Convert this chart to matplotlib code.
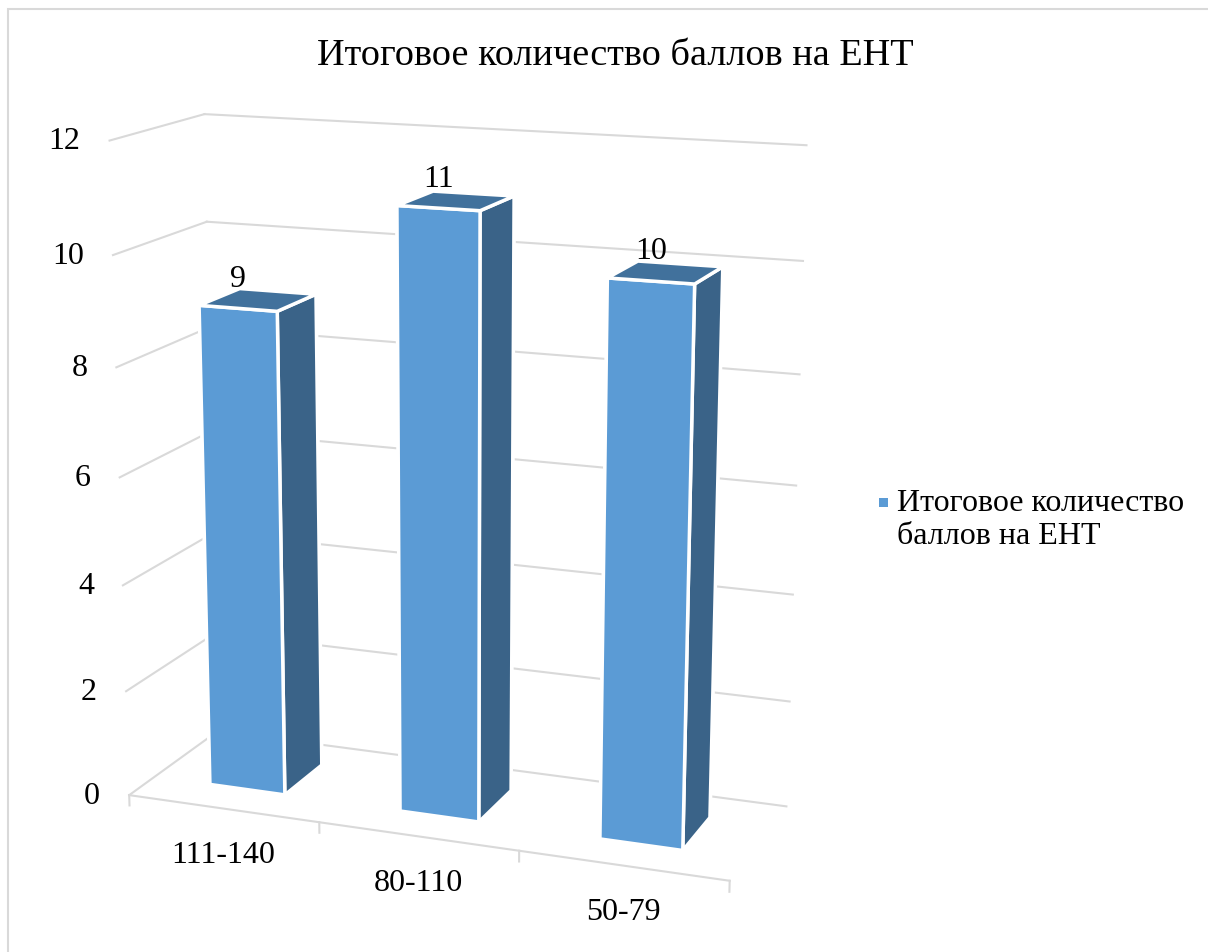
import numpy as np
import matplotlib
matplotlib.use('Agg')
import matplotlib.pyplot as plt
from matplotlib.patches import Rectangle
from mpl_toolkits.mplot3d import proj3d

# данные
categories = ['111-140', '80-110', '50-79']
values = [9, 11, 10]
series_name = 'Итоговое количество\nбаллов на ЕНТ'
title = 'Итоговое количество баллов на ЕНТ'
z_ticks = [0, 2, 4, 6, 8, 10, 12]

FONT = ['Liberation Serif', 'DejaVu Serif']
plt.rcParams['font.family'] = FONT

front_col = '#5B9BD5'
top_col = '#41719C'
side_col = '#3A6388'
grid_col = '#D9D9D9'

W, H = 1208, 953
fig = plt.figure(figsize=(W / 100, H / 100), dpi=100)

# рамка
fig.patches.append(Rectangle((8 / W, -0.05), 1.1, 1 - 9.5 / H + 0.05, transform=fig.transFigure,
                             fill=False, edgecolor=grid_col, linewidth=1.5))

ax = fig.add_axes([-0.005, 0.009, 0.745, 0.944], projection='3d', proj_type='persp', focal_length=0.6)
ax.view_init(elev=14.6, azim=-69)
ax.set_box_aspect((3.03, 1, 3.2), zoom=1.035)
ax.computed_zorder = False
ax.set_axis_off()

n = len(categories)
x0, x1 = -0.5, n - 0.5
y0, y1 = 0.0, 1.0
ax.set_xlim(x0, x1)
ax.set_ylim(y0, y1)
ax.set_zlim(0, 12)

# сетка на стенках
for z in z_ticks:
    ax.plot([x0, x1], [y1, y1], [z, z], color=grid_col, lw=1.5, zorder=1)
    ax.plot([x0, x0], [y0, y1], [z, z], color=grid_col, lw=1.5, zorder=1)

# ось категорий
ax.plot([x0, x1], [y0, y0], [0, 0], color=grid_col, lw=1.5, zorder=1)
for xt in np.arange(x0, x1 + 0.01, 1.0):
    ax.plot([xt, xt], [y0, y0], [0, -0.2], color=grid_col, lw=1.5, zorder=1)

# столбцы
bw, bd = 0.40, 0.45
face_colors = []
for v in values:
    face_colors += [front_col, top_col, front_col, front_col, side_col, side_col]
ax.bar3d(np.arange(n) - bw / 2, np.full(n, 0.5 - bd / 2), np.zeros(n), bw, bd, values,
         color=face_colors, edgecolor='white', linewidth=2.5, shade=False, zorder=3)

fig.canvas.draw()


def to_fig(x, y, z, dx=0, dy=0):
    # 3D -> пиксели -> доли фигуры
    px, py, _ = proj3d.proj_transform(x, y, z, ax.get_proj())
    disp = ax.transData.transform((px, py))
    return (disp[0] + dx) / W, (disp[1] + dy) / H


for z in z_ticks:
    fx, fy = to_fig(x0, y0, z, dx=-29)
    fig.text(fx, fy, str(z), ha='right', va='center', fontsize=23)

for i, c in enumerate(categories):
    fx, fy = to_fig(i, y0, 0, dy=-46)
    fig.text(fx, fy, c, ha='center', va='center', fontsize=23)

for i, v in enumerate(values):
    fx, fy = to_fig(i, 0.5 - bd / 2, v, dy=30)
    fig.text(fx, fy, str(v), ha='center', va='center', fontsize=23)

fig.text(0.509, 0.942, title, ha='center', va='center', fontsize=27.5)

# легенда
fig.patches.append(Rectangle((879 / W, 1 - 508 / H), 9 / W, 9 / H, transform=fig.transFigure,
                             facecolor=front_col, edgecolor='none'))
fig.text(897 / W, 1 - 520 / H, series_name, ha='left', va='center',
         fontsize=23, linespacing=1.2)

fig.savefig('out.png', dpi=100)
